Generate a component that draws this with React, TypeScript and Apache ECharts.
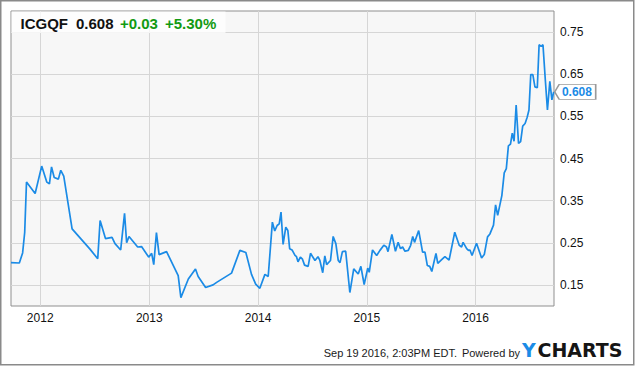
import React, { useEffect, useRef } from 'react';
import * as echarts from 'echarts';

const dates = [
  '2011-09-25', '2011-10-23', '2011-11-03', '2011-11-10', '2011-11-16', '2011-12-15',
  '2012-01-06', '2012-01-23', '2012-02-01', '2012-02-08', '2012-02-17', '2012-03-02',
  '2012-03-10', '2012-03-20', '2012-04-17', '2012-06-16', '2012-07-12', '2012-07-20',
  '2012-08-07', '2012-08-29', '2012-09-08', '2012-09-27', '2012-10-10', '2012-10-17',
  '2012-10-25', '2012-11-23', '2012-12-06', '2012-12-30',
  '2013-01-09', '2013-01-16', '2013-01-25', '2013-02-03', '2013-02-28', '2013-04-08',
  '2013-04-17', '2013-05-12', '2013-06-05', '2013-06-14', '2013-07-09', '2013-08-03',
  '2013-08-15', '2013-10-04', '2013-11-01', '2013-11-21', '2013-12-10', '2013-12-24',
  '2014-01-07', '2014-01-24', '2014-02-04', '2014-02-18', '2014-02-26', '2014-03-06',
  '2014-03-13', '2014-03-19', '2014-03-26', '2014-04-04', '2014-04-11', '2014-04-17',
  '2014-04-25', '2014-05-05', '2014-05-10', '2014-05-15', '2014-05-23', '2014-05-30',
  '2014-06-06', '2014-06-18', '2014-06-26', '2014-07-11', '2014-07-21', '2014-07-27',
  '2014-08-06', '2014-08-13', '2014-08-19', '2014-09-01', '2014-09-10', '2014-09-19',
  '2014-09-27', '2014-10-03', '2014-10-11', '2014-10-22', '2014-11-05', '2014-11-18',
  '2014-12-03', '2014-12-12', '2014-12-23',
  '2015-01-04', '2015-01-09', '2015-01-20', '2015-02-03', '2015-02-14', '2015-02-27',
  '2015-03-08', '2015-03-13', '2015-03-26', '2015-04-07', '2015-04-16', '2015-04-24',
  '2015-05-01', '2015-05-09', '2015-05-20', '2015-05-28', '2015-06-04', '2015-06-10',
  '2015-06-24', '2015-07-07', '2015-07-15', '2015-07-23', '2015-07-31', '2015-08-07',
  '2015-08-21', '2015-08-27', '2015-09-09', '2015-09-20', '2015-10-04', '2015-10-23',
  '2015-11-07', '2015-11-15', '2015-11-20', '2015-12-02', '2015-12-08', '2015-12-13',
  '2015-12-20',
  '2016-01-04', '2016-01-21', '2016-01-30', '2016-02-10', '2016-02-18', '2016-03-01',
  '2016-03-08', '2016-03-15', '2016-03-29', '2016-04-06', '2016-04-13', '2016-04-20',
  '2016-04-27', '2016-05-03', '2016-05-09', '2016-05-16', '2016-05-24', '2016-05-31',
  '2016-06-07', '2016-06-15', '2016-06-22', '2016-06-28', '2016-07-04', '2016-07-11',
  '2016-07-18', '2016-07-26', '2016-08-01', '2016-08-08', '2016-08-14', '2016-08-22',
  '2016-08-29', '2016-09-06', '2016-09-13', '2016-09-19',
];

const prices = [
  0.203, 0.202, 0.226, 0.275, 0.394, 0.367,
  0.432, 0.394, 0.390, 0.430, 0.405, 0.401,
  0.422, 0.408, 0.283, 0.235, 0.212, 0.303,
  0.260, 0.263, 0.248, 0.233, 0.320, 0.250,
  0.265, 0.240, 0.241, 0.216,
  0.225, 0.198, 0.274, 0.222, 0.229, 0.172,
  0.120, 0.164, 0.188, 0.170, 0.144, 0.150,
  0.156, 0.178, 0.232, 0.227, 0.175, 0.152,
  0.142, 0.175, 0.170, 0.299, 0.278, 0.291,
  0.295, 0.323, 0.246, 0.287, 0.279, 0.236,
  0.233, 0.220, 0.217, 0.205, 0.216, 0.211,
  0.197, 0.194, 0.225, 0.208, 0.217, 0.209,
  0.179, 0.219, 0.198, 0.208, 0.265, 0.248,
  0.208, 0.203, 0.229, 0.230, 0.132, 0.188,
  0.176, 0.194, 0.151,
  0.190, 0.180, 0.233, 0.220, 0.232, 0.244,
  0.240, 0.229, 0.270, 0.230, 0.251, 0.236,
  0.240, 0.230, 0.232, 0.244, 0.265, 0.251,
  0.279, 0.228, 0.228, 0.196, 0.194, 0.182,
  0.225, 0.201, 0.210, 0.217, 0.209, 0.275,
  0.244, 0.240, 0.251, 0.236, 0.232, 0.233,
  0.220,
  0.249, 0.214, 0.222, 0.264, 0.271, 0.292,
  0.340, 0.315, 0.362, 0.416, 0.426, 0.480,
  0.484, 0.510, 0.491, 0.577, 0.486, 0.490,
  0.527, 0.533, 0.548, 0.565, 0.649, 0.649,
  0.620, 0.618, 0.720, 0.716, 0.720, 0.635,
  0.565, 0.633, 0.589, 0.608,
];

const yTicks = [0.15, 0.25, 0.35, 0.45, 0.55, 0.65, 0.75];
const yearTicks = ['2012-01-01', '2013-01-01', '2014-01-01', '2015-01-01', '2016-01-01'];
const xRange = ['2011-09-25', '2016-09-20'];
const yRange = [0.1, 0.8];

const ticker = 'ICGQF';
const lastPrice = '0.608';
const change = '+0.03';
const changePct = '+5.30%';
const stamp = 'Sep 19 2016, 2:03PM EDT.';
const powered = 'Powered by';

const FONT = '"Liberation Sans", Arial, Helvetica, sans-serif';
const LOGO_FONT = '"DejaVu Sans", "Liberation Sans", sans-serif';
const BLUE = '#1b8be6';
const GREEN = '#129a12';

const toTime = (d: string) => {
  const [y, m, day] = d.split('-').map(Number);
  return new Date(y, m - 1, day).getTime();
};

export default function App() {
  const ref = useRef<HTMLDivElement>(null);

  useEffect(() => {
    document.body.style.margin = '0';
    if (!ref.current) return;
    const chart = echarts.init(ref.current, null, { renderer: 'svg' });
    const data = dates.map((d, i) => [toTime(d), prices[i]]);
    const last = data[data.length - 1];
    const yearVals = yearTicks.map(toTime);

    chart.setOption({
      animation: false,
      backgroundColor: '#ffffff',
      grid: {
        left: 11,
        right: 81,
        top: 11,
        bottom: 60,
        show: true,
        backgroundColor: '#f7f7f7',
        borderColor: '#8f8f8f',
        borderWidth: 1,
      },
      xAxis: {
        type: 'value',
        min: toTime(xRange[0]),
        max: toTime(xRange[1]),
        axisLine: { show: false },
        axisTick: { show: false, customValues: yearVals },
        axisLabel: {
          customValues: yearVals,
          formatter: (v: number) => String(new Date(v).getFullYear()),
          color: '#111',
          fontSize: 12,
          fontFamily: FONT,
          margin: 6,
        },
        splitLine: { show: true, lineStyle: { color: '#d6d6d6', width: 1 } },
      },
      yAxis: {
        type: 'value',
        position: 'right',
        min: yRange[0],
        max: yRange[1],
        axisLine: { show: false },
        axisTick: { show: false, customValues: yTicks },
        axisLabel: {
          customValues: yTicks,
          formatter: (v: number) => v.toFixed(2),
          color: '#111',
          fontSize: 12,
          fontFamily: FONT,
          margin: 6,
        },
        splitLine: { show: true, lineStyle: { color: '#d6d6d6', width: 1 } },
      },
      series: [
        {
          type: 'line',
          data,
          showSymbol: false,
          symbol: 'none',
          lineStyle: { color: BLUE, width: 1.7 },
          itemStyle: { color: BLUE },
          silent: true,
          markPoint: {
            silent: true,
            symbol: 'path://M0,7.5L4.5,0L41,0L41,15L4.5,15Z',
            symbolSize: [41, 15],
            symbolKeepAspect: false,
            symbolOffset: [21.5, 0],
            itemStyle: { color: '#ffffff', borderColor: '#9a9a9a', borderWidth: 1 },
            label: {
              show: true,
              position: 'inside',
              formatter: lastPrice,
              color: BLUE,
              fontWeight: 'bold',
              fontSize: 12,
              fontFamily: FONT,
              offset: [1.75, 0],
            },
            data: [{ coord: last }],
          },
        },
      ],
      graphic: [
        {
          type: 'rect',
          silent: true,
          shape: { x: 0.75, y: 0.75, width: 633, height: 364 },
          style: { fill: 'none', stroke: '#8a8a8a', lineWidth: 1.5 },
          z: 10,
        },
        {
          type: 'rect',
          silent: true,
          shape: { x: 11.5, y: 11.5, width: 214, height: 21.5 },
          style: { fill: 'rgba(255,255,255,0.75)' },
          z: 10,
        },
        {
          type: 'text',
          silent: true,
          z: 11,
          style: { text: ticker, x: 20.5, y: 23, fill: '#111', fontSize: 15, fontWeight: 'bold', fontFamily: FONT, verticalAlign: 'middle' },
        },
        {
          type: 'text',
          silent: true,
          z: 11,
          style: { text: lastPrice, x: 76, y: 23, fill: '#111', fontSize: 15, fontWeight: 'bold', fontFamily: FONT, verticalAlign: 'middle' },
        },
        {
          type: 'text',
          silent: true,
          z: 11,
          style: { text: change, x: 120, y: 23, fill: GREEN, fontSize: 15, fontWeight: 'bold', fontFamily: FONT, verticalAlign: 'middle' },
        },
        {
          type: 'text',
          silent: true,
          z: 11,
          style: { text: changePct, x: 165, y: 23, fill: GREEN, fontSize: 15, fontWeight: 'bold', fontFamily: FONT, verticalAlign: 'middle' },
        },
        {
          type: 'text',
          silent: true,
          z: 11,
          style: { text: stamp, x: 457, y: 353, fill: '#1a1a1a', fontSize: 11, fontFamily: FONT, align: 'right', verticalAlign: 'middle' },
        },
        {
          type: 'text',
          silent: true,
          z: 11,
          style: { text: powered, x: 520, y: 353, fill: '#1a1a1a', fontSize: 11, fontFamily: FONT, align: 'right', verticalAlign: 'middle' },
        },
        {
          type: 'text',
          silent: true,
          z: 11,
          style: { text: 'Y', x: 522, y: 350, fill: BLUE, fontSize: 19, fontWeight: 'bold', fontFamily: LOGO_FONT, verticalAlign: 'middle' },
        },
        {
          type: 'text',
          silent: true,
          z: 11,
          style: { text: 'CHARTS', x: 537.5, y: 350, fill: '#151515', fontSize: 19, fontWeight: 'bold', fontFamily: LOGO_FONT, verticalAlign: 'middle' },
        },
      ],
    });

    return () => chart.dispose();
  }, []);

  return (
    <div
      ref={ref}
      style={{ width: 635, height: 366, position: 'absolute', left: 0, top: 0 }}
    />
  );
}
